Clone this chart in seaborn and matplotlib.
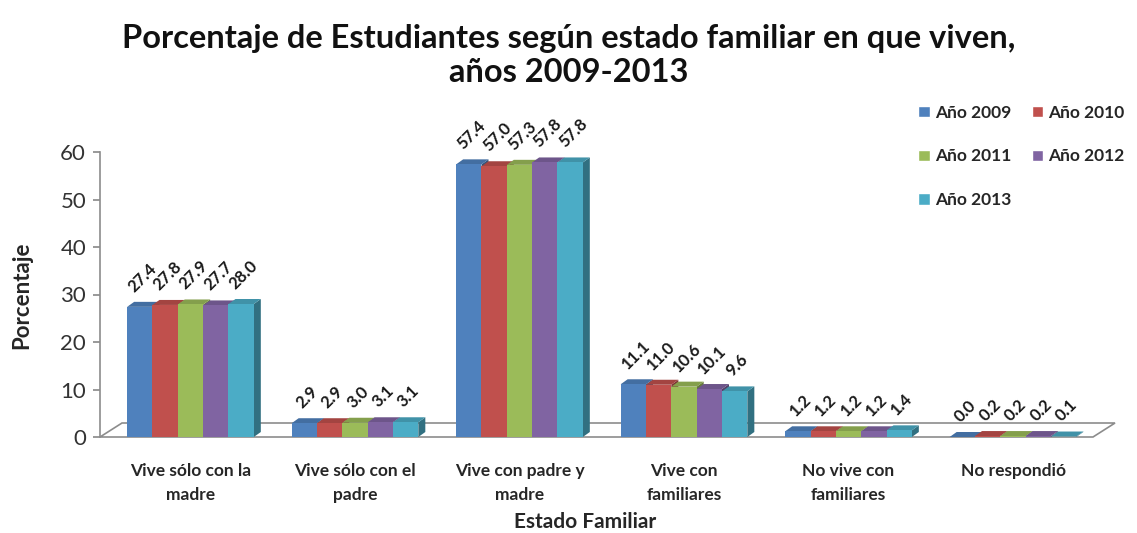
import numpy as np
import pandas as pd
import matplotlib
matplotlib.use("Agg")
import matplotlib.pyplot as plt
import matplotlib.colors as mcolors
import seaborn as sns

categories = ["Vive sólo con la\nmadre", "Vive sólo con el\npadre", "Vive con padre y\nmadre",
              "Vive con\nfamiliares", "No vive con\nfamiliares", "No respondió"]
years = ["Año 2009", "Año 2010", "Año 2011", "Año 2012", "Año 2013"]
v2009 = [27.4, 2.9, 57.4, 11.1, 1.2, 0.0]
v2010 = [27.8, 2.9, 57.0, 11.0, 1.2, 0.2]
v2011 = [27.9, 3.0, 57.3, 10.6, 1.2, 0.2]
v2012 = [27.7, 3.1, 57.8, 10.1, 1.2, 0.2]
v2013 = [28.0, 3.1, 57.8, 9.6, 1.4, 0.1]
colors = ["#4F81BD", "#C0504D", "#9BBB59", "#8064A2", "#4BACC6"]

series = [v2009, v2010, v2011, v2012, v2013]
df = pd.DataFrame({
    "cat": [c for s in series for c in categories],
    "year": [y for y, s in zip(years, series) for _ in s],
    "val": [v for s in series for v in s],
})

sns.set_theme(style="white")
plt.rcParams["font.family"] = ["Lato", "DejaVu Sans"]

fig = plt.figure(figsize=(11.37, 5.33), dpi=100)
ax = fig.add_axes([100/1137, 1-437/533, 1015/1137, 285/533])

sns.barplot(data=df, x="cat", y="val", hue="year", palette=colors, width=0.77,
            saturation=1, ax=ax, legend=True, zorder=3)

xmin, xmax = -0.55, 5.62
ax.set_xlim(xmin, xmax)
ax.set_ylim(0, 60)
pxx = 1015 / (xmax - xmin)
pxy = 285 / 60.0
dx, dy = 7 / pxx, 5 / pxy

def darker(c, f):
    r, g, b = mcolors.to_rgb(c)
    return (r*f, g*f, b*f)

bars = [p for cont in ax.containers for p in cont]
for p in bars:
    x, w, h = p.get_x(), p.get_width(), p.get_height()
    fc = p.get_facecolor()
    p.set_edgecolor("none")
    top = [(x, h), (x+dx, h+dy), (x+w+dx, h+dy), (x+w, h)]
    side = [(x+w, 0), (x+w+dx, dy), (x+w+dx, h+dy), (x+w, h)]
    ax.add_patch(plt.Polygon(top, closed=True, fc=darker(fc, 0.85), ec="none", zorder=2.5, clip_on=False))
    ax.add_patch(plt.Polygon(side, closed=True, fc=darker(fc, 0.65), ec="none", zorder=2.4, clip_on=False))
    ax.annotate(f"{h:.1f}", (x + w/2, h + dy), xytext=(2, 5), textcoords="offset points",
                ha="center", va="bottom", rotation=45, fontsize=12, weight="bold",
                color="#1a1a1a", annotation_clip=False)

# floor
fdx, fdy = 22 / pxx, 14 / pxy
floor = [(xmin, 0), (xmin + fdx, fdy), (xmax, fdy), (xmax - fdx, 0)]
ax.add_patch(plt.Polygon(floor, closed=True, fc="white", ec="#8c8c8c", lw=1.2, zorder=1, clip_on=False))

for s in ["top", "right", "bottom"]:
    ax.spines[s].set_visible(False)
ax.spines["left"].set_color("#8c8c8c")
ax.spines["left"].set_linewidth(1.2)
ax.set_yticks(range(0, 61, 10))
ax.tick_params(axis="y", left=True, length=5, color="#8c8c8c", labelsize=16, pad=5, labelcolor="#333333")
ax.tick_params(axis="x", bottom=False, labelsize=12.5, pad=13)
for lab in ax.get_xticklabels():
    lab.set_weight("bold")
    lab.set_color("#262626")
    lab.set_linespacing(1.55)
ax.set_xlabel("Estado Familiar", fontsize=15, weight="bold")
ax.xaxis.set_label_coords((585 - 100) / 1015, -(522 - 437) / 285)
ax.xaxis.label.set_va("center")
ax.set_ylabel("Porcentaje", fontsize=16, weight="bold")
ax.yaxis.set_label_coords(-(100 - 22) / 1015, (437 - 295) / 285)
ax.yaxis.label.set_va("center")

h_, l_ = ax.get_legend_handles_labels()
order = [0, 2, 4, 1, 3]
leg = ax.legend([h_[i] for i in order], [l_[i] for i in order],
                loc="upper left", bbox_to_anchor=(0.800, 0.82), bbox_transform=fig.transFigure,
                ncol=2, frameon=False, fontsize=12.5, handlelength=0.65, handleheight=0.65,
                handletextpad=0.3, labelspacing=1.6, columnspacing=1.2, borderpad=0)
for t in leg.get_texts():
    t.set_weight("bold")
    t.set_color("#262626")

fig.text(0.5, 0.955, "Porcentaje de Estudiantes según estado familiar en que viven,\naños 2009-2013",
         ha="center", va="top", fontsize=23.5, weight="bold", linespacing=1.2, color="#111111")

fig.savefig("out.png", dpi=100, facecolor="white")
